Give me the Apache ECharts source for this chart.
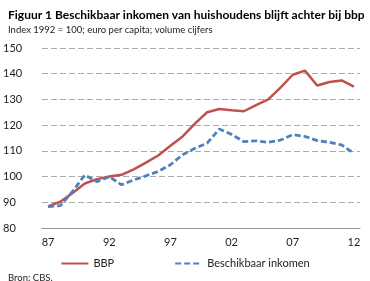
<!DOCTYPE html>
<html>
<head>
<meta charset="utf-8">
<script src="https://cdn.jsdelivr.net/npm/echarts@6/dist/echarts.min.js"></script>
<style>
  html, body { margin: 0; padding: 0; background: #fff; }
  #chart { width: 370px; height: 281px; }
</style>
</head>
<body>
<div id="chart"></div>
<script>
const years = ['87','88','89','90','91','92','93','94','95','96','97','98','99',
  '00','01','02','03','04','05','06','07','08','09','10','11','12'];
const bbp = [88.4, 90.2, 93.6, 97.3, 99.0, 100.0, 100.7, 102.8, 105.4, 108.2, 112.0, 115.6, 120.6,
  125.0, 126.3, 125.8, 125.4, 127.8, 130.0, 134.6, 139.6, 141.2, 135.4, 136.8, 137.4, 135.0];
const inkomen = [88.3, 88.7, 94.2, 100.6, 98.0, 100.0, 96.8, 98.7, 100.3, 102.0, 104.6, 108.5, 111.0,
  113.0, 118.5, 116.4, 113.6, 113.9, 113.3, 114.2, 116.3, 115.6, 114.0, 113.3, 112.3, 109.0];
const yTicks = { min: 80, max: 150, step: 10 };

const font = 'Lato, "Open Sans", sans-serif';
const chart = echarts.init(document.getElementById('chart'), null, { renderer: 'canvas' });

chart.setOption({
  animation: false,
  title: [
    {
      text: 'Figuur 1 Beschikbaar inkomen van huishoudens blijft achter bij bbp',
      left: 3, top: 4,
      textStyle: { fontFamily: font, fontSize: 12, fontWeight: 'bold', color: '#000' }
    },
    {
      text: 'Index 1992 = 100; euro per capita; volume cijfers',
      left: 3, top: 20,
      textStyle: { fontFamily: font, fontSize: 9.5, fontWeight: 'normal', color: '#222' }
    },
    {
      text: 'Bron: CBS.',
      left: 3, top: 268,
      textStyle: { fontFamily: font, fontSize: 9.5, fontWeight: 'normal', color: '#222' }
    }
  ],
  legend: {
    top: 253,
    left: 'center',
    itemWidth: 27,
    itemHeight: 10,
    itemGap: 60,
    itemStyle: { opacity: 0 },
    textStyle: { fontFamily: font, fontSize: 11, color: '#222' },
    data: ['BBP', 'Beschikbaar inkomen']
  },
  grid: { left: 31, right: 10, top: 48, bottom: 53 },
  xAxis: {
    type: 'category',
    data: years,
    boundaryGap: true,
    axisLine: { lineStyle: { color: '#999', width: 1 } },
    axisTick: { interval: 0, length: 4, lineStyle: { color: '#999' } },
    axisLabel: { interval: 4, fontFamily: font, fontSize: 11, color: '#222', margin: 9 }
  },
  yAxis: {
    type: 'value',
    min: yTicks.min,
    max: yTicks.max,
    interval: yTicks.step,
    axisLine: { show: false },
    axisTick: { show: false },
    axisLabel: { fontFamily: font, fontSize: 11, color: '#222', margin: 11, align: 'left',
      padding: [0, 0, 0, -28] },
    splitLine: { lineStyle: { color: '#aaa', type: [6, 3], width: 1 } }
  },
  series: [
    {
      name: 'BBP',
      type: 'line',
      data: bbp,
      symbol: 'none',
      lineStyle: { color: '#C0504D', width: 2.5 },
      itemStyle: { color: '#C0504D' }
    },
    {
      name: 'Beschikbaar inkomen',
      type: 'line',
      data: inkomen,
      symbol: 'none',
      lineStyle: { color: '#4F81BD', width: 2.8, type: [6, 3] },
      itemStyle: { color: '#4F81BD' }
    }
  ]
});
</script>
</body>
</html>
